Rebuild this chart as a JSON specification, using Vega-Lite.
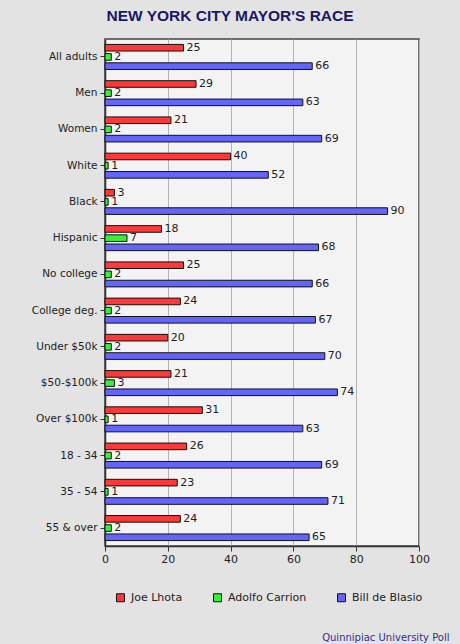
{
  "$schema": "https://vega.github.io/schema/vega-lite/v6.json",
  "autosize": {"type": "none"},
  "width": 314,
  "height": 507,
  "padding": {"left": 105, "top": 39, "right": 41, "bottom": 98},
  "background": "#e3e3e3",
  "title": {
    "text": "NEW YORK CITY MAYOR'S RACE",
    "font": "Liberation Sans",
    "fontSize": 15.5,
    "fontWeight": "bold",
    "color": "#181866",
    "anchor": "middle",
    "dx": -32,
    "offset": 15
  },
  "config": {
    "font": "DejaVu Sans",
    "view": {"fill": "#f3f3f3", "stroke": "#444444", "strokeWidth": 1.5},
    "axis": {"labelFont": "DejaVu Sans", "labelFontSize": 11, "labelColor": "#222222", "domainColor": "#333333", "tickColor": "#333333"}
  },
  "data": {
    "values": [
      {"group": "All adults", "candidate": "Joe Lhota", "pct": 25},
      {"group": "All adults", "candidate": "Adolfo Carrion", "pct": 2},
      {"group": "All adults", "candidate": "Bill de Blasio", "pct": 66},
      {"group": "Men", "candidate": "Joe Lhota", "pct": 29},
      {"group": "Men", "candidate": "Adolfo Carrion", "pct": 2},
      {"group": "Men", "candidate": "Bill de Blasio", "pct": 63},
      {"group": "Women", "candidate": "Joe Lhota", "pct": 21},
      {"group": "Women", "candidate": "Adolfo Carrion", "pct": 2},
      {"group": "Women", "candidate": "Bill de Blasio", "pct": 69},
      {"group": "White", "candidate": "Joe Lhota", "pct": 40},
      {"group": "White", "candidate": "Adolfo Carrion", "pct": 1},
      {"group": "White", "candidate": "Bill de Blasio", "pct": 52},
      {"group": "Black", "candidate": "Joe Lhota", "pct": 3},
      {"group": "Black", "candidate": "Adolfo Carrion", "pct": 1},
      {"group": "Black", "candidate": "Bill de Blasio", "pct": 90},
      {"group": "Hispanic", "candidate": "Joe Lhota", "pct": 18},
      {"group": "Hispanic", "candidate": "Adolfo Carrion", "pct": 7},
      {"group": "Hispanic", "candidate": "Bill de Blasio", "pct": 68},
      {"group": "No college", "candidate": "Joe Lhota", "pct": 25},
      {"group": "No college", "candidate": "Adolfo Carrion", "pct": 2},
      {"group": "No college", "candidate": "Bill de Blasio", "pct": 66},
      {"group": "College deg.", "candidate": "Joe Lhota", "pct": 24},
      {"group": "College deg.", "candidate": "Adolfo Carrion", "pct": 2},
      {"group": "College deg.", "candidate": "Bill de Blasio", "pct": 67},
      {"group": "Under $50k", "candidate": "Joe Lhota", "pct": 20},
      {"group": "Under $50k", "candidate": "Adolfo Carrion", "pct": 2},
      {"group": "Under $50k", "candidate": "Bill de Blasio", "pct": 70},
      {"group": "$50-$100k", "candidate": "Joe Lhota", "pct": 21},
      {"group": "$50-$100k", "candidate": "Adolfo Carrion", "pct": 3},
      {"group": "$50-$100k", "candidate": "Bill de Blasio", "pct": 74},
      {"group": "Over $100k", "candidate": "Joe Lhota", "pct": 31},
      {"group": "Over $100k", "candidate": "Adolfo Carrion", "pct": 1},
      {"group": "Over $100k", "candidate": "Bill de Blasio", "pct": 63},
      {"group": "18 - 34", "candidate": "Joe Lhota", "pct": 26},
      {"group": "18 - 34", "candidate": "Adolfo Carrion", "pct": 2},
      {"group": "18 - 34", "candidate": "Bill de Blasio", "pct": 69},
      {"group": "35 - 54", "candidate": "Joe Lhota", "pct": 23},
      {"group": "35 - 54", "candidate": "Adolfo Carrion", "pct": 1},
      {"group": "35 - 54", "candidate": "Bill de Blasio", "pct": 71},
      {"group": "55 & over", "candidate": "Joe Lhota", "pct": 24},
      {"group": "55 & over", "candidate": "Adolfo Carrion", "pct": 2},
      {"group": "55 & over", "candidate": "Bill de Blasio", "pct": 65}
    ]
  },
  "encoding": {
    "y": {
      "field": "group",
      "type": "nominal",
      "sort": null,
      "scale": {"paddingInner": 0.31, "paddingOuter": 0.15},
      "axis": {"title": null, "tickSize": 5, "labelPadding": 3, "labelFontSize": 10.5, "domainWidth": 1.5, "grid": false}
    },
    "yOffset": {
      "field": "candidate",
      "type": "nominal",
      "sort": ["Joe Lhota", "Adolfo Carrion", "Bill de Blasio"],
      "scale": {"paddingInner": 0.28, "paddingOuter": 0}
    },
    "x": {
      "field": "pct",
      "type": "quantitative",
      "scale": {"domain": [0, 100]},
      "axis": {
        "values": [0, 20, 40, 60, 80, 100],
        "grid": true,
        "gridColor": "#b4b4b4",
        "tickSize": 5,
        "labelPadding": 2,
        "labelFlush": false,
        "domainWidth": 1.5,
        "title": "Quinnipiac University Poll",
        "titleFont": "DejaVu Sans",
        "titleFontSize": 10,
        "titleFontWeight": "normal",
        "titleColor": "#303090",
        "titleAnchor": "end",
        "titleAlign": "right",
        "titleBaseline": "middle",
        "titleX": 344,
        "titleY": 91
      }
    }
  },
  "layer": [
    {
      "mark": {"type": "bar", "stroke": "#111111", "strokeWidth": 1},
      "encoding": {
        "color": {
          "field": "candidate",
          "type": "nominal",
          "sort": ["Joe Lhota", "Adolfo Carrion", "Bill de Blasio"],
          "scale": {"domain": ["Joe Lhota", "Adolfo Carrion", "Bill de Blasio"], "range": ["#ff3838", "#38f038", "#6464ff"]},
          "legend": {
            "title": null,
            "orient": "none",
            "direction": "horizontal",
            "legendX": 10,
            "legendY": 553,
            "symbolType": "square",
            "symbolSize": 64,
            "symbolStrokeColor": "#111111",
            "symbolStrokeWidth": 1,
            "symbolOpacity": 1,
            "labelFont": "DejaVu Sans",
            "labelFontSize": 11,
            "labelColor": "#222222",
            "labelOffset": 5,
            "columnPadding": 28
          }
        }
      }
    },
    {
      "mark": {"type": "text", "align": "left", "baseline": "middle", "dx": 3, "fontSize": 11, "font": "DejaVu Sans", "color": "#222222"},
      "encoding": {
        "text": {"field": "pct", "type": "quantitative"}
      }
    }
  ]
}
